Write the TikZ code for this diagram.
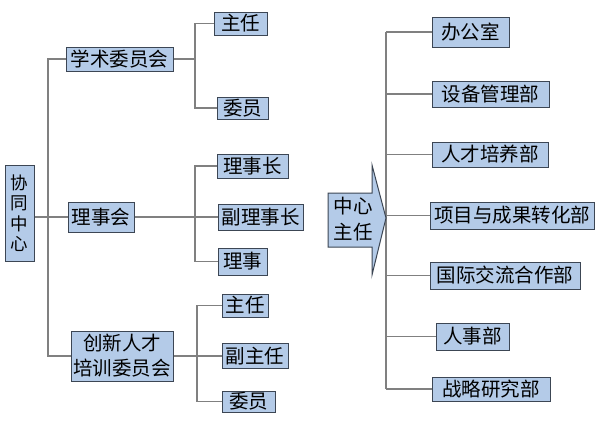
\documentclass[tikz,border=0pt]{standalone}
\usepackage{fontspec}
\newfontfamily\cjk{Noto Sans CJK SC}
\definecolor{boxfill}{HTML}{B4CBE8}
\definecolor{boxline}{HTML}{3C4654}
\definecolor{connline}{HTML}{808080}
\begin{document}
\begin{tikzpicture}[x=1pt,y=-1pt,
  box/.style={draw=boxline, fill=boxfill, line width=1pt, inner sep=0pt,
    font=\cjk\fontsize{19.5}{22}\selectfont, text=black, align=center},
  conn/.style={draw=connline, line width=1.4pt}]
\useasboundingbox (0,0) rectangle (600,429);
\fill[white] (0,0) rectangle (600,429);

% left tree
\node[box, minimum width=29pt, minimum height=96pt, font=\cjk\fontsize{17.5}{20.5}\selectfont] (xt) at (19.5,213) {协\\同\\中\\心};
\node[box, minimum width=107pt, minimum height=24pt] (xs) at (119.5,59) {学术委员会};
\node[box, minimum width=53pt, minimum height=23pt] (zr1) at (240.5,23.5) {主任};
\node[box, minimum width=51pt, minimum height=22pt] (wy1) at (242.5,108) {委员};
\node[box, minimum width=66pt, minimum height=30pt] (lsh) at (101,217) {理事会};
\node[box, minimum width=71pt, minimum height=24pt] (lsz) at (252.5,166) {理事长};
\node[box, minimum width=85pt, minimum height=26pt] (flsz) at (260.5,217) {副理事长};
\node[box, minimum width=49pt, minimum height=27pt] (ls) at (242.5,261.5) {理事};
\node[box, minimum width=102pt, minimum height=50pt, font=\cjk\fontsize{19.5}{25}\selectfont] (cx) at (122,356) {创新人才\\培训委员会};
\node[box, minimum width=46pt, minimum height=23pt] (zr2) at (245,305.5) {主任};
\node[box, minimum width=66pt, minimum height=25pt] (fzr) at (255,356) {副主任};
\node[box, minimum width=53pt, minimum height=21pt] (wy2) at (248.5,401.5) {委员};

\coordinate (L) at (48,0);
\coordinate (B1) at (195,0);
\coordinate (B2) at (195,0);
\coordinate (B3) at (197,0);

\draw[conn] (xs.west) -- (xs.west -| L) |- (cx.west);
\draw[conn] (xt.east |- lsh.west) -- (lsh.west);
\draw[conn] (xs.east) -- (xs.east -| B1);
\draw[conn] (zr1.west) -- (zr1.west -| B1) -- (wy1.west -| B1) -- (wy1.west);
\draw[conn] (lsh.east) -- (flsz.west);
\draw[conn] (lsz.west) -- (lsz.west -| B2) -- (ls.west -| B2) -- (ls.west);
\draw[conn] (cx.east) -- (fzr.west);
\draw[conn] (zr2.west) -- (zr2.west -| B3) -- (wy2.west -| B3) -- (wy2.west);

% right tree
\node[box, minimum width=77pt, minimum height=30pt] (bgs) at (470.5,32) {办公室};
\node[box, minimum width=117pt, minimum height=26pt] (sb) at (490.5,94) {设备管理部};
\node[box, minimum width=116pt, minimum height=25pt] (rc) at (490,154.5) {人才培养部};
\node[box, minimum width=164pt, minimum height=27pt] (xm) at (512,215.5) {项目与成果转化部};
\node[box, minimum width=150pt, minimum height=27pt] (gj) at (505,275.5) {国际交流合作部};
\node[box, minimum width=73pt, minimum height=27pt] (rs) at (472.5,336.5) {人事部};
\node[box, minimum width=118pt, minimum height=24pt] (zl) at (491,389) {战略研究部};

\coordinate (R) at (386,0);
\draw[conn] (bgs.west -| R) -- (zl.west -| R);
\foreach \b in {bgs,sb,rc,xm,gj,rs,zl} {
  \draw[conn] (\b.west -| R) -- (\b.west);
}

% arrow
\filldraw[fill=boxfill, draw=boxline, line width=1pt]
  (328,193) -- (372,193) -- (372,165) -- (386,218) -- (372,275) -- (372,247) -- (328,247) -- cycle;
\node[font=\cjk\fontsize{19.5}{26}\selectfont, align=center, inner sep=0pt] (zxzr) at (353,219) {中心\\主任};
\end{tikzpicture}
\end{document}
